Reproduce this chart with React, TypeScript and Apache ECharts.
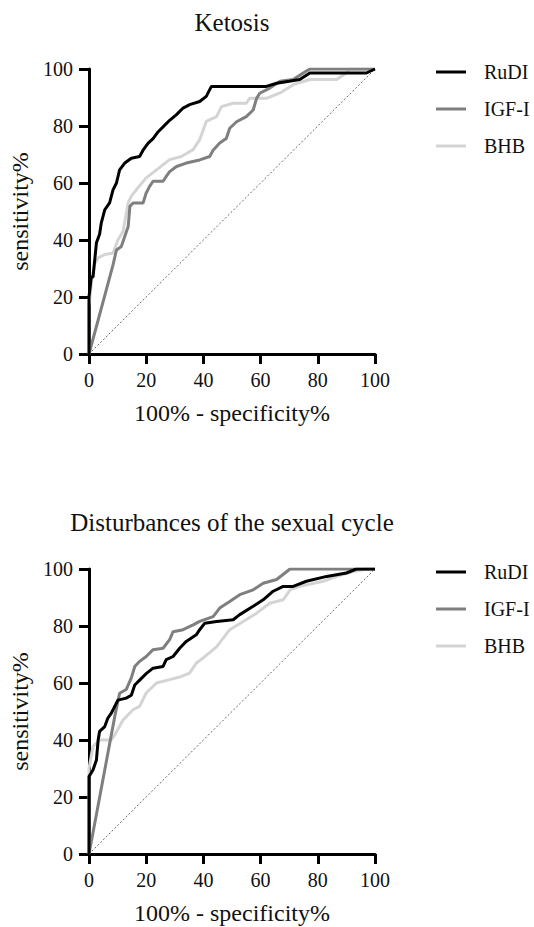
import React, { useEffect, useRef } from "react";
import * as echarts from "echarts";

const titles = ["Ketosis", "Disturbances of the sexual cycle"];
const seriesNames = ["RuDI", "IGF-I", "BHB"];
const tickValues = [0, 20, 40, 60, 80, 100];
const xName = "100% - specificity%";
const yName = "sensitivity%";

const ketosisRuDI: [number, number][] = [
  [0, 0], [0, 20], [0.8, 27], [1.4, 27], [2.6, 39], [3.7, 42], [4.3, 46], [5.5, 50.6], [7.2, 53], [8.4, 57.6],
  [9.6, 60], [10.7, 64.6], [12.5, 67], [14.8, 68.7], [17.7, 69.3], [18.9, 71.5], [20.7, 74], [22.4, 75.6],
  [24.2, 78], [26.5, 80.3], [28.2, 82], [30.6, 84], [32.9, 86.3], [35.2, 87.5], [38.7, 88.6], [41, 90.4],
  [42.8, 93.9], [62, 93.9], [65.6, 95], [70, 95.7], [73.7, 96.3], [77.2, 98.6], [97, 98.6], [100, 100],
];
const ketosisIGF: [number, number][] = [
  [0, 0], [8.4, 31.3], [9.6, 36.5], [11.3, 37.7], [12.5, 41.2], [13.7, 44.7], [14.3, 51.8], [15.4, 53],
  [18.9, 53], [20, 56.5], [21.2, 58.8], [22.4, 60.6], [25.9, 60.6], [27, 62.3], [28.2, 64], [30.6, 65.8],
  [34, 67], [38.7, 68.1], [42.2, 69.3], [43.4, 71.5], [45.7, 74], [48, 75.6], [49.2, 79.2], [51.6, 81.5],
  [55, 83.3], [57.4, 85.6], [58.6, 89.7], [59.7, 91.5], [63.2, 93.3], [66.8, 95.7], [71.4, 96.3],
  [74.9, 98.6], [77.2, 100], [100, 100],
];
const ketosisBHB: [number, number][] = [
  [0, 0], [0, 16.6], [0.8, 24.8], [2, 31.8], [3.2, 33.7], [5.5, 34.9], [8.4, 35.4], [10.1, 40], [11.9, 43],
  [13.7, 53], [14.8, 55.4], [16.6, 57.7], [20, 61.8], [23.6, 64.6], [28.2, 68.2], [32.3, 69.3], [36.4, 71.7],
  [38.7, 75.2], [41, 81.6], [44.6, 83.3], [46.3, 86.8], [50.4, 88], [55, 88], [56.2, 89.7], [62, 89.7],
  [66.8, 91.6], [71.4, 94.5], [77.2, 96.3], [86.6, 96.3], [90, 98.6], [91.2, 100], [100, 100],
];

const cycleRuDI: [number, number][] = [
  [0, 0], [0, 27.2], [1.4, 29.5], [2.6, 33], [3.2, 40], [3.7, 43], [5.5, 44.7], [6.6, 47.7], [7.8, 49.4],
  [9, 51.8], [10.1, 54], [13, 54.7], [14.8, 55.7], [16, 59.3], [17.7, 61], [20, 63.3], [22.4, 65.2],
  [25.9, 65.8], [27, 68.2], [29.4, 69.3], [31.7, 72.2], [34, 74.6], [37.5, 76.9], [38.7, 78.7], [40.5, 81],
  [44.6, 81.6], [50.4, 82.2], [52.7, 84], [57.4, 86.9], [60.9, 89.2], [64.4, 92.2], [67.9, 93.9],
  [71.4, 93.9], [76, 95.7], [83.1, 97.4], [90, 98.6], [93.5, 100], [100, 100],
];
const cycleIGF: [number, number][] = [
  [0, 0], [9, 48.2], [10.7, 56.4], [13, 57.7], [14.8, 61.8], [16, 65.8], [17.7, 67.6], [20, 69.3],
  [22.4, 71.7], [25.9, 72.2], [28.2, 75.2], [29.4, 78], [32.9, 78.7], [36.4, 80.4], [38.7, 81.6],
  [43.4, 83.3], [45.7, 86.3], [49.2, 88.6], [52.7, 91], [57.4, 92.7], [60.9, 95], [65.6, 96.3],
  [70.3, 100], [100, 100],
];
const cycleBHB: [number, number][] = [
  [0, 0], [0, 30], [1.4, 37.7], [3.7, 40], [7.8, 40], [9, 41.8], [11.9, 47], [15.4, 50.6], [17.7, 51.8],
  [20, 56.5], [23.6, 60], [28.2, 61.2], [32.3, 62.3], [35.2, 63.5], [37.5, 67], [39.8, 68.7], [44.6, 72.7],
  [49.2, 78.7], [53.9, 81.6], [58.6, 84.5], [63.2, 88], [67.9, 89.2], [70.3, 92.7], [73.7, 93.9],
  [81.9, 95.7], [86.6, 97.4], [92.4, 99.1], [97, 100], [100, 100],
];
const diagonal: [number, number][] = [[0, 0], [100, 100]];

const panels = [
  { title: titles[0], data: [ketosisRuDI, ketosisIGF, ketosisBHB] },
  { title: titles[1], data: [cycleRuDI, cycleIGF, cycleBHB] },
];

const colors = ["#000000", "#7f7f7f", "#d4d4d4"];
const FONT = "Liberation Serif";

const GRID_LEFT = 89;
const GRID_W = 286;
const GRID_H = 285;
const GRID_TOPS = [69, 569];

export default function App() {
  const ref = useRef<HTMLDivElement>(null);
  useEffect(() => {
    if (!ref.current) return;
    const chart = echarts.init(ref.current, null, { renderer: "svg" });

    const grids: any[] = [];
    const xAxes: any[] = [];
    const yAxes: any[] = [];
    const series: any[] = [];
    const legends: any[] = [];
    const graphics: any[] = [];

    panels.forEach((p, i) => {
      const top = GRID_TOPS[i];
      grids.push({ left: GRID_LEFT, top, width: GRID_W, height: GRID_H });
      const axisCommon = {
        type: "value",
        gridIndex: i,
        min: 0,
        max: 100,
        interval: 20,
        axisLine: { lineStyle: { color: "#000", width: 3 }, onZero: false },
        axisTick: { show: true, length: 10, lineStyle: { color: "#000", width: 3 } },
        splitLine: { show: false },
        axisLabel: {
          color: "#111",
          fontFamily: FONT,
          fontSize: 20,
          margin: 16,
          formatter: (v: number) => (tickValues.includes(v) ? String(v) : ""),
        },
        nameLocation: "middle",
        nameTextStyle: { color: "#111", fontFamily: FONT, fontSize: 24 },
      };
      xAxes.push({ ...axisCommon, name: xName, nameGap: 47 });
      yAxes.push({ ...axisCommon, name: yName, nameGap: 48 });
      series.push({
        type: "line",
        name: "diag" + i,
        xAxisIndex: i,
        yAxisIndex: i,
        data: diagonal,
        symbol: "none",
        lineStyle: { color: "#444", width: 0.8, type: [2, 2] },
        z: 1,
        silent: true,
      });
      [2, 1, 0].forEach((k) => {
        series.push({
          type: "line",
          name: seriesNames[k],
          xAxisIndex: i,
          yAxisIndex: i,
          data: p.data[k],
          symbol: "none",
          showSymbol: false,
          color: colors[k],
          lineStyle: { color: colors[k], width: 3 },
          z: 2 + (2 - k),
        });
      });
      legends.push({
        orient: "vertical",
        left: 431,
        top: top - 12,
        data: seriesNames,
        icon: "rect",
        itemWidth: 30,
        itemHeight: 3,
        itemGap: 17,
        selectedMode: false,
        textStyle: {
          color: "#111",
          fontFamily: FONT,
          fontSize: 20,
          lineHeight: 20,
          padding: [0, 0, 0, 13],
        },
      });
      graphics.push({
        type: "text",
        x: GRID_LEFT + GRID_W / 2,
        y: top - 47,
        style: {
          text: p.title,
          fill: "#111",
          fontFamily: FONT,
          fontSize: 25,
          textAlign: "center",
          textVerticalAlign: "middle",
        },
      });
    });

    chart.setOption({
      animation: false,
      backgroundColor: "#fff",
      textStyle: { fontFamily: FONT },
      grid: grids,
      xAxis: xAxes,
      yAxis: yAxes,
      series,
      legend: legends,
      graphic: graphics,
    });
    return () => chart.dispose();
  }, []);

  return (
    <div
      ref={ref}
      style={{ position: "absolute", left: 0, top: 0, width: 534, height: 927 }}
    />
  );
}
